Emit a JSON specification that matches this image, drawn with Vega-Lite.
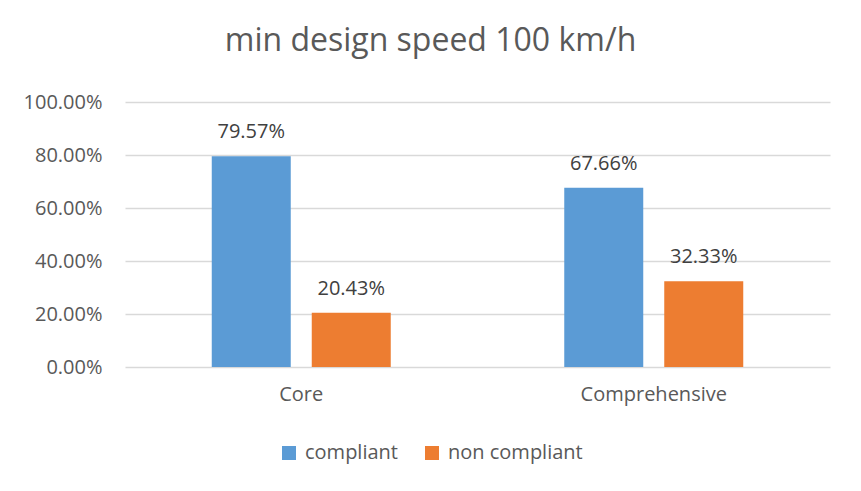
{
  "$schema": "https://vega.github.io/schema/vega-lite/v6.json",
  "width": 705,
  "height": 265,
  "autosize": {"type": "none"},
  "padding": {"left": 125, "top": 102, "right": 31, "bottom": 124},
  "background": "white",
  "title": {
    "text": "min design speed 100 km/h",
    "fontSize": 32,
    "font": "Open Sans",
    "fontWeight": "normal",
    "color": "#595959",
    "anchor": "middle",
    "dx": -47,
    "offset": 34
  },
  "data": {
    "values": [
      {"category": "Core", "status": "compliant", "value": 0.7957},
      {"category": "Core", "status": "non compliant", "value": 0.2043},
      {"category": "Comprehensive", "status": "compliant", "value": 0.6766},
      {"category": "Comprehensive", "status": "non compliant", "value": 0.3233}
    ]
  },
  "encoding": {
    "x": {
      "field": "category",
      "type": "nominal",
      "sort": ["Core", "Comprehensive"],
      "scale": {"paddingInner": 0, "paddingOuter": 0},
      "axis": {
        "title": null,
        "labelAngle": 0,
        "domain": false,
        "ticks": false,
        "labelFont": "Open Sans",
        "labelFontSize": 20,
        "labelColor": "#595959",
        "labelPadding": 17
      }
    },
    "xOffset": {
      "field": "status",
      "type": "nominal",
      "scale": {"paddingInner": 0.21, "paddingOuter": 0.8675}
    },
    "y": {
      "field": "value",
      "type": "quantitative",
      "scale": {"domain": [0, 1]},
      "axis": {
        "title": null,
        "format": ".2%",
        "values": [0, 0.2, 0.4, 0.6, 0.8, 1],
        "labelOverlap": false,
        "domain": false,
        "ticks": false,
        "grid": true,
        "gridColor": "#D9D9D9",
        "gridWidth": 1.3,
        "labelFont": "Open Sans",
        "labelFontSize": 20,
        "labelColor": "#595959",
        "labelPadding": 23
      }
    }
  },
  "layer": [
    {
      "mark": {"type": "bar"},
      "encoding": {
        "color": {
          "field": "status",
          "type": "nominal",
          "scale": {"domain": ["compliant", "non compliant"], "range": ["#5B9BD5", "#ED7D31"]},
          "legend": {
            "title": null,
            "orient": "none",
            "legendX": 154,
            "legendY": 341,
            "direction": "horizontal",
            "symbolType": "square",
            "symbolSize": 196,
            "symbolStrokeWidth": 0,
            "labelFont": "Open Sans",
            "labelFontSize": 20,
            "labelColor": "#595959",
            "labelOffset": 6,
            "columnPadding": 24
          }
        }
      }
    },
    {
      "mark": {"type": "text", "baseline": "alphabetic", "dy": -18, "font": "Open Sans", "fontSize": 20, "color": "#404040"},
      "encoding": {
        "text": {"field": "value", "type": "quantitative", "format": ".2%"}
      }
    }
  ],
  "config": {
    "view": {"stroke": null}
  }
}
